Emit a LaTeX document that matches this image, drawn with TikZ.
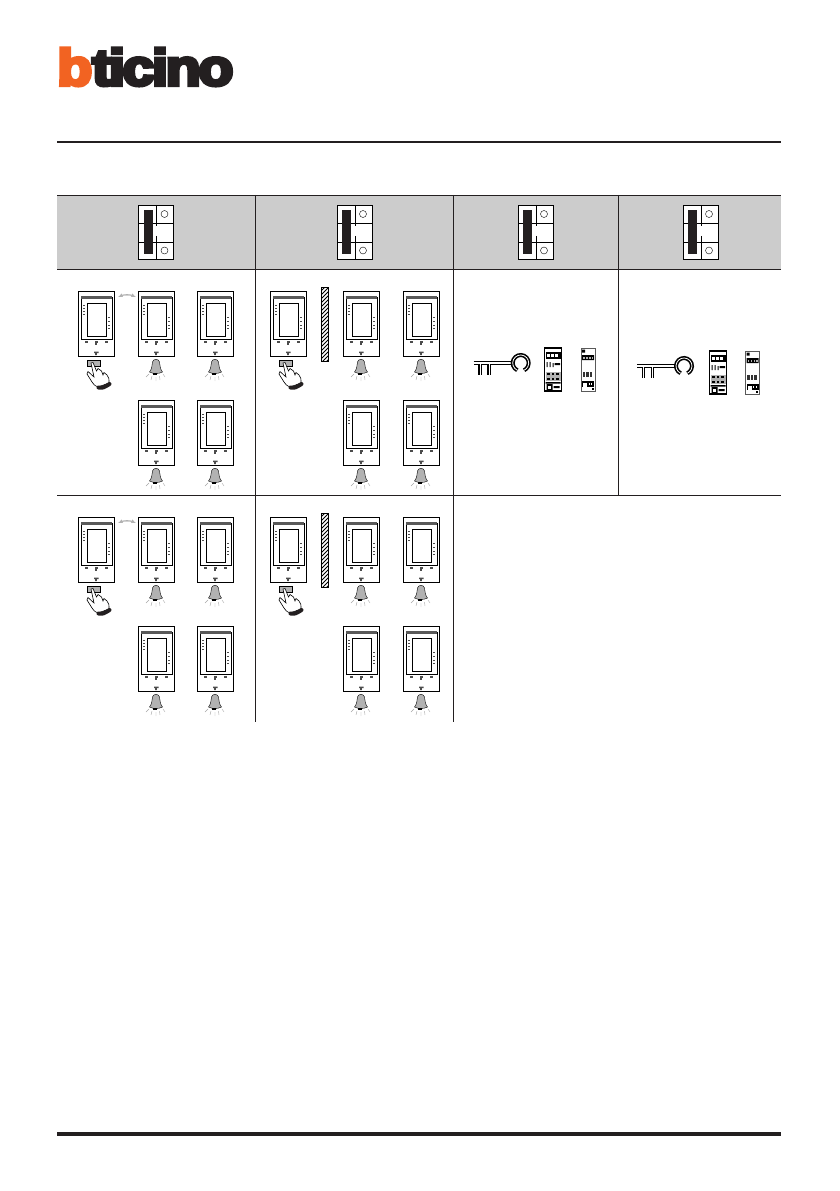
\documentclass[tikz,border=0pt]{standalone}
\usepackage{fontspec}
\usepackage{graphicx}
\usepackage{xcolor}
\usetikzlibrary{arrows.meta}
\newfontfamily\logofont[BoldFeatures={FakeBold=7,LetterSpace=-4}]{Liberation Sans}
\definecolor{logoorange}{HTML}{F26322}
\definecolor{logoblack}{HTML}{231F20}
\definecolor{headgray}{gray}{0.8}

\begin{document}
\begin{tikzpicture}[x=0.75pt,y=-0.75pt,
  rule/.style={draw=logoblack, line width=0.7pt},
  heavyrule/.style={draw=logoblack, line width=3pt},
  thinline/.style={draw=black, line width=0.7pt},
  ray/.style={draw=gray!70, line width=0.3pt},
  tiny/.style={fill=black!70, draw=none},
  jumper/.pic={
    \draw[thinline, fill=white] (0,0) rectangle (35,54.5);
    \draw[thinline] (18,0) -- (18,21) (18,31) -- (18,54.5);
    \draw[thinline] (0,18) -- (35,18);
    \draw[thinline] (0,37) -- (35,37);
    \fill[logoblack] (5,5) rectangle (14,49);
    \draw[line width=0.3pt] (26,9) circle [radius=3.5] (26,45.5) circle [radius=3.5];
  },
  phone/.pic={
    \draw[thinline] (0,0) rectangle (36,65);
    \draw[thinline] (3,6) rectangle (34,48);
    \fill[black!65] (3,5) rectangle (34,7.5);
    \draw[thinline] (9,12) rectangle (28.5,45.5);
    \foreach \iy in {14,17,20,23} \fill[tiny] (5.2,\iy) rectangle (7.4,\iy+1.4);
    \foreach \iy in {26,30,33.5,36.5} \fill[tiny] (30.2,\iy) rectangle (32.4,\iy+1.4);
    \foreach \ix in {7,16.5,26.5} \fill[tiny] (\ix,50) rectangle (\ix+3,51.6);
    \fill[tiny] (17,51.6) rectangle (18.6,54);
    \fill[tiny] (16,60.5) rectangle (20.5,62) (17.2,62) rectangle (18.8,64);
  },
  bell/.pic={
    \draw[line width=0.3pt, fill=gray!60] (-6.5,13) .. controls (-4,10) and (-4,6) .. (-3.5,3)
      .. controls (-3,-0.5) and (3,-0.5) .. (3.5,3)
      .. controls (4,6) and (4,10) .. (6.5,13)
      .. controls (3,15) and (-3,15) .. (-6.5,13) -- cycle;
    \fill[black] (-3,13.5) rectangle (0.5,15.5);
    \draw[ray] (-10,18) -- (-7,15) (-5,21) -- (-4,17) (0,22) -- (0,18)
      (4,21) -- (3.5,17) (9,18) -- (7,15);
  },
  pushhand/.pic={
    \draw[thinline, fill=gray!60] (9,69) rectangle (22.7,75);
    \draw[line width=0.45pt, fill=white] (13,72) -- (15,71.5) -- (18.5,80) -- (20,77.5) -- (23.5,80)
      -- (25,84) -- (26,81.5) -- (29,84) .. controls (31,87) .. (31,92) -- (20,96)
      .. controls (16,94) .. (14,91) -- (9,83) -- (10,80.5) -- (16,86) -- cycle;
    \draw[logoblack, line width=3pt, line cap=round] (20.5,96.5) .. controls (25,97) .. (31.5,93);
  },
  keyicon/.pic={
    \draw[draw=black, line width=0.85pt, double=white, double distance=0.9pt]
      (-47,0) -- (-8,0) (-40.5,0) -- (-40.5,12) (-31.5,0) -- (-31.5,12);
    \draw[draw=black, line width=1.2pt, double=white, double distance=0.6pt]
      (115:8) arc [start angle=115, end angle=425, radius=8];
  },
  dinone/.pic={
    \draw[line width=0.85pt] (0,0) rectangle (17,43);
    \fill[black] (1,4) rectangle (16,11);
    \foreach \ix in {2,6,10} \fill[white] (\ix,6) rectangle (\ix+3,9);
    \fill[black] (2,14) rectangle (3,19) (5,14) rectangle (6,19) (8,15) rectangle (9,19) (10,15) rectangle (15.5,17);
    \fill[gray!60] (1,24) rectangle (16,33);
    \foreach \iy in {25,29.5} \foreach \ix in {2.5,7,11.5}
      \fill[black] (\ix,\iy) rectangle (\ix+2.6,\iy+2.4);
    \fill[black] (1,34) rectangle (16,35.5) (2,36) rectangle (8,42) (9,38) rectangle (15,40);
    \fill[white] (3.5,37.5) rectangle (6.5,41);
  },
  dintwo/.pic={
    \draw[draw=gray!70!black, line width=0.6pt] (0,0) rectangle (14,43);
    \fill[black] (1,1.5) rectangle (4,4.5) (1,7) rectangle (13,12);
    \foreach \ix in {2,5,8,10.5} \fill[gray!60] (\ix,9) rectangle (\ix+1.8,11);
    \foreach \ix in {1.5,5,8.5} \fill[black!80] (\ix,24) rectangle (\ix+2.6,29);
    \fill[black] (1,33) rectangle (13,39);
    \fill[white] (2,35) rectangle (6,38.5);
    \foreach \ix in {7.5,10} \fill[white] (\ix,34.5) rectangle (\ix+1.4,36.5);
    \fill[black] (10.5,40) rectangle (12.5,42);
  }
]
\useasboundingbox (0,0) rectangle (839,1191);

% logo
\node[inner sep=0pt, anchor=north west] (logo) at (57,48)
  {\resizebox{132pt}{27.75pt}{\logofont\bfseries\textcolor{logoorange}{b}\textcolor{logoblack}{ticino}}};

% page rules
\draw[draw=logoblack, line width=1.4pt] (57,142) -- (781,142);
\draw[heavyrule] (57,1134) -- (781,1134);

% table header and grid
\fill[headgray] (57,195) rectangle (781,269);
\draw[rule] (57,195) -- (781,195);
\draw[rule] (57,269) -- (781,269);
\draw[rule] (57,495) -- (781,495);
\draw[rule] (255,195) -- (255,722);
\draw[rule] (453,195) -- (453,722);
\draw[rule] (618,195) -- (618,495);

\foreach \x in {138.5,337,518,683} \pic at (\x,205) {jumper};

% monitors, bells
\foreach \r in {291,517}{
  \foreach \x in {78,270}{
    \pic at (\x,\r) {phone};
    \pic at (\x,\r) {pushhand};
  }
  \foreach \x/\y in {138/0,197/0,343/0,403/0,138/109,197/109,343/109,403/109}{
    \pic at (\x,\r+\y) {phone};
    \pic at (\x+18,\r+\y+68) {bell};
  }
  % link between first two monitors
  \draw[{Latex[length=3.5pt,width=3pt]}-{Latex[length=3.5pt,width=3pt]}, draw=gray!60, fill=gray!60, line width=0.8pt]
    (118,\r+6) .. controls (124,\r+3.5) and (130,\r+3.5) .. (136,\r+6);
  % wall
  \begin{scope}
    \clip (321.5,\r-3.5) rectangle (328.5,\r+70.5);
    \foreach \d in {0,4,...,80}
      \draw[line width=0.55pt] (320,\r-3+\d) -- (330,\r-13+\d);
  \end{scope}
  \draw[thinline] (321.5,\r-3.5) rectangle (328.5,\r+70.5);
}

% keys and din modules
\pic at (520.7,363) {keyicon};
\pic at (544.5,348) {dinone};
\pic at (581,348) {dintwo};
\pic at (684,366) {keyicon};
\pic at (709.5,351) {dinone};
\pic at (745.5,351) {dintwo};

\end{tikzpicture}
\end{document}
